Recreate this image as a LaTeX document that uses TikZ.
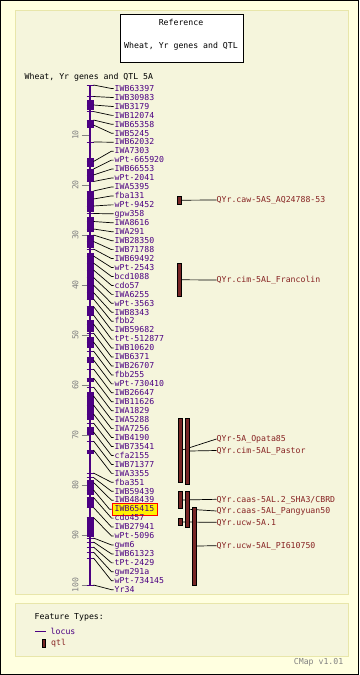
\documentclass[tikz,border=0pt]{standalone}
\usepackage{fontspec}
\setmainfont{DejaVu Sans Mono}
\usetikzlibrary{positioning}
\definecolor{outerbg}{RGB}{255,255,224}
\definecolor{panelbg}{RGB}{245,245,220}
\definecolor{panelline}{RGB}{232,230,170}
\definecolor{locuscol}{RGB}{75,0,130}
\definecolor{qtlfill}{RGB}{120,38,38}
\definecolor{qtltext}{RGB}{135,35,35}
\definecolor{scalecol}{RGB}{130,130,130}
\begin{document}
\begin{tikzpicture}[x=1pt, y=-1pt,
      font=\fontsize{8.2}{10}\selectfont,
      panel/.style={draw=panelline, fill=panelbg, line width=1pt},
      titlebox/.style={draw, fill=white, minimum width=123pt, minimum height=48pt, inner sep=0pt},
      chrom/.style={locuscol, line width=2pt},
      locustick/.style={locuscol, line width=1pt},
      scaletick/.style={scalecol, line width=0.8pt},
      scalelabel/.style={text=scalecol, inner sep=0pt, rotate=90},
      locuslabel/.style={anchor=west, text=locuscol, inner xsep=1pt, inner ysep=0.5pt,
                         text height=6pt, text depth=0.5pt},
      hilite/.style={fill=yellow, draw=red, inner xsep=3pt, inner ysep=2.3pt, xshift=-2pt},
      qtlbar/.style={draw=black, fill=qtlfill, minimum width=4pt, inner sep=0pt, line width=0.6pt},
      qtllabel/.style={anchor=west, text=qtltext, inner sep=0pt, text height=6pt, text depth=0.5pt},
      conn/.style={black, line width=0.7pt},
    ]
    \useasboundingbox (0,0) rectangle (359,675);
    \fill[outerbg] (0,0) rectangle (359,675);
    \draw[line width=1pt] (0.5,0.5) rectangle (358.5,674.5);
    \draw[panel] (15.5,10.5) rectangle (348.5,594.5);
    \draw[panel] (15.5,603.5) rectangle (348.5,656.5);

    \node[titlebox] (title) at (182,38.5) {};
    \node (titleref) at (181,22.5) {Reference};
    \node (titlemap) at (181,46) {Wheat, Yr genes and QTL};
    \node[anchor=west, inner sep=0pt] (maptitle) at (24.5,77.3) {Wheat, Yr genes and QTL 5A};

    \foreach \k in {1,...,10} {
      \pgfmathtruncatemacro\val{10*\k}
      \draw[scaletick] (81.7,{85+50*\k}) -- (88.5,{85+50*\k});
      \node[scalelabel] (s\k) at (75.5,{85+50*\k}) {\val};
    }
    \coordinate (ctop) at (90,85);
    \coordinate (cbot) at (90,585);
    \draw[chrom] (ctop) -- (cbot);
    \foreach \ya/\yb in {100/110, 121/128, 158/167, 170/182, 192/212, 217/232, 235/248,
        253/300, 307/315, 320/332, 337/348, 357/363, 378/382, 392/420, 427/435,
        450/454, 480/495, 497/508, 518/537}
      \fill[locuscol] (86.5,\ya) rectangle (93.5,\yb);

    \foreach \name/\cm [count=\i] in {IWB63397/0, IWB30983/2.3, IWB3179/4, IWB12074/5.3,
        IWB65358/7, IWB5245/8, IWB62032/11.4, IWA7303/15.3, wPt-665920/16.8, IWB66553/18,
        wPt-2041/19.3, IWA5395/21.2, fba131/22.8, wPt-9452/24.2, gpw358/25.7, IWA8616/27.3,
        IWA291/28.8, IWB28350/30, IWB71788/31.3, IWB69492/32.8, wPt-2543/34.2, bcd1088/35.6,
        cdo57/37, IWA6255/38.5, wPt-3563/40, IWB8343/41.5, fbb2/42.8, IWB59682/44.3,
        tPt-512877/46, IWB10620/47.8, IWB6371/49.6, IWB26707/51.4, fbb255/53.2,
        wPt-730410/55, IWB26647/56.8, IWB11626/58.6, IWA1829/60.4, IWA5288/62.2,
        IWA7256/64, IWB4190/65.8, IWB73541/67.6, cfa2155/69.4, IWB71377/71.2, IWA3355/73,
        fba351/77.6, IWB59439/78.5, IWB48439/79.5, IWB65415/81, cdo457/82.5, IWB27941/84.5,
        wPt-5096/86.5, gwm6/90.6, IWB61323/91.4, tPt-2429/92.4, gwm291a/93.4,
        wPt-734145/94.6, Yr34/100} {
      \ifnum\i=48 \tikzset{thislabel/.style=hilite}\else\tikzset{thislabel/.style={}}\fi
      \coordinate (m\i) at (93.5,{85+5*\cm});
      \draw[locustick] (86.5,{85+5*\cm}) -- (m\i);
      \node[locuslabel, thislabel] (l\i) at (113.5,{88.5+(\i-1)*8.95}) {\name};
      \draw[conn] (m\i) -- ([xshift=-2pt]l\i.west) -- (l\i.west);
    }

    \node[qtlbar, minimum height=8.5pt] (q1) at (179.5,200.2) {};
    \node[qtllabel] (t1) at (216.5,200) {QYr.caw-5AS\_AQ24788-53};
    \draw[conn] (q1.east) -- (t1.west);
    \node[qtlbar, minimum height=33.5pt] (q2) at (179.5,279.8) {};
    \node[qtllabel] (t2) at (216.5,280) {QYr.cim-5AL\_Francolin};
    \draw[conn] (q2.east) -- (t2.west);
    \node[qtlbar, minimum height=64pt] (q3) at (180,450) {};
    \node[qtllabel] (t3) at (216.5,439) {QYr-5A\_Opata85};
    \draw[conn] (q3.east) -- (t3.west);
    \node[qtlbar, minimum height=66pt] (q4) at (187.5,451) {};
    \node[qtllabel] (t4) at (216.5,450.5) {QYr.cim-5AL\_Pastor};
    \draw[conn] (q4.east) -- (t4.west);
    \node[qtlbar, minimum height=17pt] (q5) at (180,500) {};
    \node[qtllabel] (t5) at (216.5,499.3) {QYr.caas-5AL.2\_SHA3/CBRD};
    \draw[conn] (q5.east) -- (t5.west);
    \node[qtlbar, minimum height=7.4pt] (q7) at (180,522) {};
    \node[qtllabel] (t7) at (216.5,522.3) {QYr.ucw-5A.1};
    \draw[conn] (q7.east) -- (t7.west);
    \node[qtlbar, minimum height=35.5pt] (q6) at (187.5,509.3) {};
    \node[qtllabel] (t6) at (216.5,511) {QYr.caas-5AL\_Pangyuan50};
    \draw[conn] (q6.east) -- (t6.west);
    \node[qtlbar, minimum height=78pt] (q8) at (194.5,546) {};
    \node[qtllabel] (t8) at (216.5,545.7) {QYr.ucw-5AL\_PI610750};
    \draw[conn] (q8.east) -- (t8.west);

    \node[anchor=west, inner sep=0pt] (legtitle) at (34.5,617) {Feature Types:};
    \draw[locustick] (35,631.7) -- (46,631.7);
    \node[locuslabel, inner xsep=0pt] (leglocus) at (50.5,631.5) {locus};
    \node[qtlbar, minimum width=3pt, minimum height=8pt] (legqtl) at (44.2,643) {};
    \node[qtllabel, right=5pt of legqtl] (legqtltext) {qtl};
    \node[anchor=east, text=scalecol, inner sep=0pt] (version) at (343.5,662) {CMap v1.01};
  \end{tikzpicture}
\end{document}
